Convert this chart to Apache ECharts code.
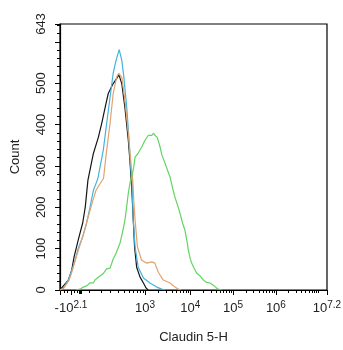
<!DOCTYPE html>
<html>
<head>
<meta charset="utf-8">
<script src="https://cdn.jsdelivr.net/npm/echarts@6/dist/echarts.min.js"></script>
<style>html,body{margin:0;padding:0;background:#fff;}#c{width:343px;height:350px;}</style>
</head>
<body>
<div id="c"></div>
<script>
// Display scale: channel units 0..1024 (biexponential display)
const xMin = 0, xMax = 1024;
const xLabelValues = [42, 326, 500, 664, 828, 1024];
const xLabelBase = ['-10', '10', '10', '10', '10', '10'];
const xLabelExp = ['2.1', '3', '4', '5', '6', '7.2'];
const xZeroTick = [77];
const xLowMinorTicks = [15, 27, 54, 65, 111, 157, 192, 222, 245, 265, 280, 295, 307, 318];
const xDecades = [326, 500, 664, 828, 991];
const yMax = 643;
const yLabelValues = [0, 100, 200, 300, 400, 500, 643];
const yMajorTicks = [0, 100, 200, 300, 400, 500, 600, 643];

const blackX = [0, 32, 45, 54, 70, 87, 97, 107, 128, 147, 160, 173, 185, 204, 217, 226, 237, 249, 262, 268, 275, 281, 286, 294, 307, 320, 330, 338];
const blackY = [0, 24, 48, 80, 121, 162, 201, 265, 330, 369, 403, 441, 475, 499, 511, 520, 499, 441, 362, 314, 248, 169, 104, 55, 31, 17, 5, 0];

const blueX = [0, 13, 32, 45, 58, 70, 87, 102, 115, 128, 141, 146, 166, 179, 192, 204, 215, 227, 237, 245, 256, 265, 271, 276, 281, 288, 300, 320, 345, 371, 390, 403];
const blueY = [0, 5, 24, 48, 72, 101, 128, 162, 200, 241, 262, 272, 338, 403, 466, 524, 555, 581, 555, 514, 441, 362, 297, 265, 169, 104, 55, 29, 17, 7, 2, 0];

const orangeX = [0, 15, 35, 48, 61, 77, 92, 107, 123, 138, 167, 179, 192, 204, 217, 225, 237, 249, 262, 271, 279, 283, 288, 297, 313, 333, 352, 364, 377, 396, 422, 441, 454, 464];
const orangeY = [0, 5, 24, 48, 77, 109, 140, 174, 210, 241, 270, 338, 403, 475, 514, 524, 514, 458, 379, 314, 265, 217, 169, 104, 72, 65, 68, 65, 43, 24, 17, 7, 2, 0];

const greenX = [61, 77, 89, 102, 115, 128, 134, 153, 165, 179, 192, 204, 215, 230, 240, 249, 255, 262, 269, 275, 282, 288, 300, 313, 326, 339, 345, 352, 359, 364, 373, 384, 391, 403, 412, 422, 432, 441, 451, 460, 470, 479, 487, 492, 499, 505, 514, 524, 537, 550, 560, 575, 591, 606, 621];
const greenY = [0, 2, 7, 10, 17, 17, 24, 34, 39, 51, 53, 75, 89, 113, 140, 169, 198, 234, 261, 273, 294, 321, 331, 345, 362, 374, 376, 374, 379, 374, 369, 345, 326, 306, 290, 273, 246, 224, 205, 186, 162, 145, 118, 97, 77, 65, 53, 41, 34, 24, 19, 17, 10, 2, 0];

const seriesNames = ['black', 'blue', 'orange', 'green'];
const seriesColors = ['#151515', '#45b2dc', '#e0a370', '#62d462'];
const seriesXs = [blackX, blueX, orangeX, greenX];
const seriesYs = [blackY, blueY, orangeY, greenY];

// minor log ticks inside each decade
const xMinorTicks = xLowMinorTicks.slice();
for (let i = 0; i < xDecades.length; i++) {
  const a = xDecades[i];
  const w = (i + 1 < xDecades.length) ? xDecades[i + 1] - a : xDecades[i] - xDecades[i - 1];
  if (i > 0) xMinorTicks.push(a);
  for (let k = 2; k <= 9; k++) {
    const v = a + Math.log10(k) * w;
    if (v < xMax) xMinorTicks.push(v);
  }
}
const yMinorTicks = [];
for (let v = 0; v <= 640; v += 20) yMinorTicks.push(v);

const FONT = 'Liberation Sans, Arial, sans-serif';

function xLabel(v) {
  let best = 0, bd = Infinity;
  xLabelValues.forEach((t, i) => { const d = Math.abs(t - v); if (d < bd) { bd = d; best = i; } });
  return '{b|' + xLabelBase[best] + '}{s|' + xLabelExp[best] + '}';
}

const chart = echarts.init(document.getElementById('c'), null, { renderer: 'canvas' });
chart.setOption({
  animation: false,
  backgroundColor: '#fff',
  grid: { left: 60, right: 16, top: 24, bottom: 60, show: true, borderColor: '#000', borderWidth: 1.2, outerBoundsMode: 'none' },
  xAxis: [{
    type: 'value', min: xMin, max: xMax,
    name: 'Claudin 5-H', nameLocation: 'middle', nameGap: 41,
    nameTextStyle: { fontFamily: FONT, fontSize: 13, color: '#222' },
    axisLine: { lineStyle: { color: '#000', width: 1.2 } },
    axisTick: { show: true, customValues: xLabelValues.concat([0]), length: 5, lineStyle: { color: '#000', width: 1 } },
    axisLabel: {
      customValues: xLabelValues, formatter: xLabel, margin: 10, color: '#222', fontFamily: FONT,
      rich: {
        b: { fontSize: 13, fontFamily: FONT, color: '#222', padding: [5, 0, 0, 0], lineHeight: 15, verticalAlign: 'bottom' },
        s: { fontSize: 10, fontFamily: FONT, color: '#222', lineHeight: 14, verticalAlign: 'top' }
      }
    },
    splitLine: { show: false }
  }, {
    type: 'value', min: xMin, max: xMax, position: 'bottom',
    axisLine: { show: false },
    axisTick: { show: true, customValues: xMinorTicks, length: 3, lineStyle: { color: '#000', width: 1 } },
    axisLabel: { show: false },
    splitLine: { show: false }
  }, {
    type: 'value', min: xMin, max: xMax, position: 'bottom',
    axisLine: { show: false },
    axisTick: { show: true, customValues: xZeroTick, length: 4, lineStyle: { color: '#000', width: 3 } },
    axisLabel: { show: false },
    splitLine: { show: false }
  }],
  yAxis: [{
    type: 'value', min: 0, max: yMax,
    name: 'Count', nameLocation: 'middle', nameGap: 38,
    nameTextStyle: { fontFamily: FONT, fontSize: 13, color: '#222' },
    axisLine: { show: true, lineStyle: { color: '#000', width: 1.2 } },
    axisTick: { show: true, customValues: yMajorTicks, length: 5, lineStyle: { color: '#000', width: 1 } },
    axisLabel: { customValues: yLabelValues, rotate: 90, margin: 12, fontFamily: FONT, fontSize: 13, color: '#222' },
    splitLine: { show: false }
  }, {
    type: 'value', min: 0, max: yMax, position: 'left',
    axisLine: { show: false },
    axisTick: { show: true, customValues: yMinorTicks, length: 3, lineStyle: { color: '#000', width: 1 } },
    axisLabel: { show: false },
    splitLine: { show: false }
  }],
  series: seriesNames.map((n, i) => ({
    name: n, type: 'line', showSymbol: false, smooth: false, z: 3,
    xAxisIndex: 0, yAxisIndex: 0,
    lineStyle: { color: seriesColors[i], width: 1.2 },
    data: seriesXs[i].map((x, j) => [x, seriesYs[i][j]])
  }))
});
</script>
</body>
</html>
